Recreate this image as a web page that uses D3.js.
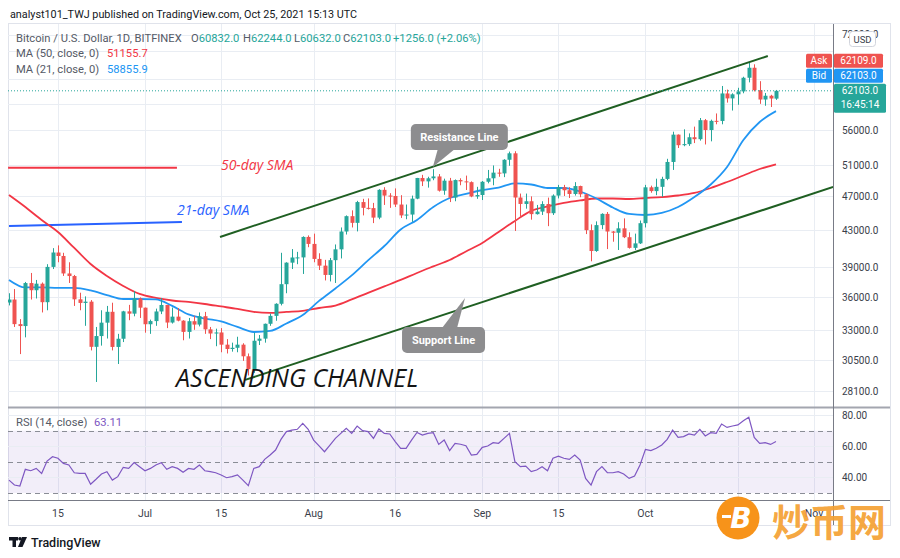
<!DOCTYPE html>
<html><head><meta charset="utf-8">
<script src="https://cdn.jsdelivr.net/npm/d3@7"></script>
<style>body{margin:0;background:#fff}svg{display:block;font-family:Roboto,"Noto Sans",sans-serif}</style>
</head><body><svg id="c" width="900" height="558"></svg>
<script>
// ---------- DATA ----------
const startDate = "2021-06-06";
const endDate = "2021-10-25";
const open = [35520,35800,33550,33380,37390,36690,37330,35550,39020,40530,40160,38350,38090,35820,35480,35600,31600,32510,33680,34660,31590,32280,34700,34490,35900,35040,33540,33820,34690,35290,33690,34220,33860,32870,33810,33510,34260,33090,32730,32820,31780,31420,31520,31780,30820,29790,32110,32290,33580,34290,35400,37280,39460,40000,40010,42230,41460,39850,39150,38200,39720,40870,42840,44610,43830,46300,45600,45570,44440,47820,47100,47050,46000,44700,44800,46720,49340,48900,49300,49540,47710,48990,46850,49070,48900,48800,46990,47170,48850,49300,50040,49940,51770,52660,46860,46070,46400,44850,45150,46060,44960,47100,48150,47770,47300,48300,47260,42990,40690,43570,44880,42840,42700,43200,42200,41030,41520,43790,48140,47660,48200,49220,51470,55320,53800,53950,54940,54660,57470,56000,57370,57350,61670,60870,61530,62000,64280,66000,62210,60690,61300,60832];
const high = [36400,36800,34000,37500,38400,37700,37450,39300,41000,41300,40500,39500,38200,36450,36100,35750,33300,34800,35200,35500,32700,34750,35300,36600,36000,35050,33950,34950,35950,35300,35050,35000,33900,34100,34300,34600,34650,33300,33150,33200,32250,31950,32450,31900,31050,32800,32600,33600,34500,35450,40500,39500,40900,40600,42300,42400,42600,40450,39750,39950,41400,43300,44700,45300,46450,46700,46750,46200,47900,48150,47400,48000,47150,46000,47100,49350,49750,49500,50500,49850,49250,49350,49150,49300,49650,48900,48200,48950,50400,51000,50550,51850,52900,52950,47350,47350,47000,45950,46400,46850,47250,48450,48450,48150,48800,48350,47350,43650,44000,44950,45100,42900,43900,44350,42750,42600,44100,48450,48350,49250,49500,51900,55750,55350,56100,55500,56500,57800,57650,57550,58500,62900,62300,61700,62600,64450,66900,66600,63700,61750,61450,62244];
const low = [35250,33300,31000,32400,35800,35900,34600,34800,38800,39500,38100,37400,35200,34800,33400,31300,28800,31700,32300,31300,30200,32000,33900,34250,34100,32800,32700,33400,34450,33200,33600,33800,32150,32300,33050,33350,32700,32250,31650,31150,31050,31200,31150,30450,29300,29500,31750,31950,33400,33850,35250,36400,38800,39300,38300,41100,39500,38700,37650,37550,37400,39900,42500,43300,42850,44700,45400,43800,44250,45950,45600,45700,44400,44250,43950,46650,48300,48100,49050,47600,47200,46300,46400,48400,47800,46900,46700,46550,48650,48400,49500,49450,50950,42900,44450,45500,44200,44800,44750,43450,44750,46750,47050,46800,47100,46900,42550,39600,40600,43100,40900,41700,40800,42100,40950,40800,41450,43300,47450,47150,46950,49050,50400,53400,53650,53700,54100,54450,53900,54350,56850,56850,60200,58950,59850,61700,63500,62000,60000,59700,59500,60632];
const close = [35800,33550,33380,37390,36690,37330,35550,39020,40530,40160,38350,38090,35820,35480,35600,31600,32510,33680,34660,31590,32280,34700,34490,35900,35040,33540,33820,34690,35290,33690,34220,33860,32870,33810,33510,34260,33090,32730,32820,31780,31420,31520,31780,30820,29790,32110,32290,33580,34290,35400,37280,39460,40000,40010,42230,41460,39850,39150,38200,39720,40870,42840,44610,43830,46300,45600,45570,44440,47820,47100,47050,46000,44700,44800,46720,49340,48900,49300,49540,47710,48990,46850,49070,48900,48800,46990,47170,48850,49300,50040,49940,51770,52660,46860,46070,46400,44850,45150,46060,44960,47100,48150,47770,47300,48300,47260,42990,40690,43570,44880,42840,42700,43200,42200,41030,41520,43790,48140,47660,48200,49220,51470,55320,53800,53950,54940,54660,57470,56000,57370,57350,61670,60870,61530,62000,64280,66000,62210,60690,61300,60850,62103];
const rsi = [38.3,35.1,34.5,45.2,44.3,45.8,42.6,50.5,53.3,52.3,49.0,48.0,43.0,42.6,42.6,35.6,38.8,42.2,43.7,38.3,40.5,46.5,45.8,49.5,46.9,44.3,45.8,48.0,49.5,45.2,46.9,45.8,43.3,45.8,45.2,48.0,44.3,43.7,43.0,41.6,39.8,40.5,41.6,38.3,34.7,45.8,46.9,51.6,54.4,57.6,64.4,69.4,70.4,70.9,74.7,70.9,64.0,60.2,56.5,60.8,65.1,68.3,71.5,68.3,73.0,70.0,69.4,65.1,71.1,68.3,67.9,63.0,58.7,58.7,64.0,68.9,67.2,68.3,68.7,61.2,64.0,57.2,61.9,61.3,60.4,54.4,54.8,59.3,60.2,62.3,61.9,65.1,68.3,50.1,46.9,47.3,43.7,44.8,46.9,44.3,52.3,53.7,52.3,51.6,54.4,51.2,39.4,35.1,43.7,46.9,43.0,43.0,43.7,42.2,39.4,40.9,48.0,58.0,57.2,58.7,60.8,64.4,70.4,65.7,66.2,67.9,67.2,70.9,66.6,68.7,68.3,74.3,72.1,73.0,73.7,76.4,78.6,65.7,61.9,62.3,61.2,63.11];
const maDates = ["2021-06-06","2021-06-09","2021-06-12","2021-06-15","2021-06-18","2021-06-21","2021-06-24","2021-06-27","2021-06-30","2021-07-03","2021-07-06","2021-07-09","2021-07-12","2021-07-15","2021-07-18","2021-07-21","2021-07-24","2021-07-27","2021-07-30","2021-08-02","2021-08-05","2021-08-08","2021-08-11","2021-08-14","2021-08-17","2021-08-20","2021-08-23","2021-08-26","2021-08-29","2021-09-01","2021-09-04","2021-09-07","2021-09-10","2021-09-13","2021-09-16","2021-09-19","2021-09-22","2021-09-25","2021-09-28","2021-10-01","2021-10-04","2021-10-07","2021-10-10","2021-10-13","2021-10-16","2021-10-19","2021-10-22","2021-10-25"];
const ma50 = [47170,45700,44160,42790,41020,39320,38100,37110,36330,35950,35710,35570,35380,35150,34920,34650,34560,34650,34740,35010,35240,35810,36430,37060,37700,38400,39070,39740,40640,41560,42790,44050,45230,45770,46190,46500,46740,46740,46680,46800,46920,47110,47430,48050,48820,49660,50520,51156];
const ma21 = [37700,36960,36960,36910,36910,36670,36230,35850,35850,35810,35200,34420,34050,33790,33300,32860,32950,33610,34370,35670,36860,38150,39690,41230,43070,44160,45700,46800,47300,47800,48110,48630,48500,48050,48050,47610,46740,45640,44870,44750,44990,45700,46920,48500,50790,54540,57190,58856];
const priceGrid = [72000,69000,64000,60000,56000,51000,47000,43000,39000,36000,33000,30500,28100];
const priceLabels = [72000,56000,51000,47000,43000,39000,36000,33000,30500,28100];
const timeTicks = ["2021-06-15","2021-07-01","2021-07-15","2021-08-01","2021-08-16","2021-09-01","2021-09-15","2021-10-01","2021-10-18","2021-11-01"];
const timeLabels = ["15","Jul","15","Aug","16","Sep","15","Oct","","Nov"];
const rsiGrid = [80,60,40];
const rsiLevels = [70,50,30];
const channelUpper = [["2021-07-14T19:00",42230],["2021-10-23T12:00",68070]];
const channelLower = [["2021-07-19T10:00",28960],["2021-11-04T12:00",48180]];
const sma50Marker = [["2021-06-05T20:00",50700],["2021-07-06T21:00",50700]];
const sma21Marker = [["2021-06-06T00:00",43470],["2021-07-07T19:00",43930]];
const textNotes = [
  {text:"50-day SMA", at:["2021-07-14T23:00",50390], color:"#f23645", size:14},
  {text:"21-day SMA", at:["2021-07-06T21:00",44750], color:"#2962ff", size:14},
  {text:"ASCENDING CHANNEL", at:["2021-07-06T17:00",28430], color:"#141414", size:25}
];
const callouts = [
  {text:"Resistance Line", tip:["2021-08-22T22:00",50790], dir:"up"},
  {text:"Support Line", tip:["2021-08-28T20:00",35950], dir:"down"}
];
const lastPrice = 62103, askPrice = 62109, bidPrice = 62103;

// ---------- SETUP ----------
const parse = s => new Date(s.length > 10 ? s + ":00Z" : s + "T00:00:00Z");
const dates = d3.utcDay.range(parse(startDate), d3.utcDay.offset(parse(endDate), 1));
const svg = d3.select("#c");
const UP = "#26a69a", DN = "#ef5350", GRID = "#e9edf3", AXC = "#3a3e4a";
const L = 8, R = 833, PT = 24, PB = 407, RT = 408, RB = 500;

const x = d3.scaleUtc().domain([parse(startDate), parse(endDate)]).range([9, 776]);
const y = d3.scaleLog().domain([28100, 56000]).range([391.3, 130]);
const r = d3.scaleLinear().domain([30, 70]).range([493, 430.7]);

svg.append("rect").attr("width", 900).attr("height", 558).attr("fill", "#fff");
const defs = svg.append("defs");
defs.append("clipPath").attr("id", "cp").append("rect").attr("x", L).attr("y", PT).attr("width", R - L).attr("height", PB - PT);
defs.append("clipPath").attr("id", "cr").append("rect").attr("x", L).attr("y", RT).attr("width", R - L).attr("height", RB - RT);

// frame
svg.append("rect").attr("x", 8.5).attr("y", 23.5).attr("width", 882).attr("height", 502).attr("fill", "none").attr("stroke", "#e0e3eb");

// grid
const tickDates = timeTicks.map(parse);
svg.append("g").selectAll("line").data(tickDates).join("line")
  .attr("x1", d => Math.round(x(d)) + 0.5).attr("x2", d => Math.round(x(d)) + 0.5)
  .attr("y1", PT).attr("y2", RB).attr("stroke", GRID);
svg.append("g").selectAll("line").data(priceGrid).join("line")
  .attr("x1", L).attr("x2", R).attr("y1", d => Math.round(y(d)) + 0.5).attr("y2", d => Math.round(y(d)) + 0.5)
  .attr("stroke", GRID);

// RSI pane background
svg.append("rect").attr("x", L).attr("width", R - L).attr("y", r(70)).attr("height", r(30) - r(70))
  .attr("fill", "rgba(126,87,194,0.10)");
svg.append("g").selectAll("line").data(rsiGrid).join("line")
  .attr("x1", L).attr("x2", R).attr("y1", d => Math.round(r(d)) + 0.5).attr("y2", d => Math.round(r(d)) + 0.5)
  .attr("stroke", GRID);
svg.append("g").selectAll("line").data(rsiLevels).join("line")
  .attr("x1", L).attr("x2", R).attr("y1", d => Math.round(r(d)) + 0.5).attr("y2", d => Math.round(r(d)) + 0.5)
  .attr("stroke", "#8a8d96").attr("stroke-dasharray", "5,4");

// ---------- PRICE PANE ----------
const pg = svg.append("g").attr("clip-path", "url(#cp)");
const pt = p => [x(parse(p[0])), y(p[1])];

// SMA marker lines
pg.append("path").attr("d", d3.line()(sma50Marker.map(pt))).attr("stroke", "#f23645").attr("stroke-width", 2).attr("fill", "none");
pg.append("path").attr("d", d3.line()(sma21Marker.map(pt))).attr("stroke", "#2962ff").attr("stroke-width", 2).attr("fill", "none");

// MAs
const maLine = d3.line().curve(d3.curveMonotoneX);
pg.append("path").attr("d", maLine(maDates.map((d, i) => [x(parse(d)), y(ma50[i])])))
  .attr("fill", "none").attr("stroke", "#f23645").attr("stroke-width", 1.8);
pg.append("path").attr("d", maLine(maDates.map((d, i) => [x(parse(d)), y(ma21[i])])))
  .attr("fill", "none").attr("stroke", "#2196f3").attr("stroke-width", 1.8);

// candles
const candles = dates.map((d, i) => ({ d, o: open[i], h: high[i], l: low[i], c: close[i] }));
const cx = d => Math.round(x(d.d)) + 0.5;
pg.append("g").selectAll("line").data(candles).join("line")
  .attr("x1", cx).attr("x2", cx).attr("y1", d => y(d.h)).attr("y2", d => y(d.l))
  .attr("stroke", d => d.c >= d.o ? UP : DN).attr("stroke-width", 1);
pg.append("g").selectAll("rect").data(candles).join("rect")
  .attr("x", d => cx(d) - 2).attr("width", 4)
  .attr("y", d => y(Math.max(d.o, d.c)))
  .attr("height", d => Math.max(1, Math.abs(y(d.o) - y(d.c))))
  .attr("fill", d => d.c >= d.o ? UP : DN);

// channel
[channelUpper, channelLower].forEach(c => {
  pg.append("path").attr("d", d3.line()(c.map(pt))).attr("stroke", "#1f5f22").attr("stroke-width", 2).attr("fill", "none");
});

// last price dotted line
pg.append("line").attr("x1", L).attr("x2", R).attr("y1", y(lastPrice)).attr("y2", y(lastPrice))
  .attr("stroke", UP).attr("stroke-dasharray", "1,2");

// text notes
textNotes.forEach(n => {
  const [tx, ty] = pt(n.at);
  pg.append("text").attr("x", tx).attr("y", ty).text(n.text)
    .attr("fill", n.color).attr("font-size", n.size).attr("font-style", "italic")
    .attr("font-family", "'Open Sans', sans-serif");
});

// callouts
callouts.forEach(c => {
  const [tx, ty] = pt(c.tip);
  const g = pg.append("g");
  let bx, by, bw, bh = 26, poly;
  if (c.dir === "up") {
    bw = 97; bx = tx - 22; by = ty - 43;
    poly = [[tx + 5, ty - 18], [tx + 22, ty - 18], [tx, ty]];
  } else {
    bw = 83; bx = tx - 63; by = ty + 29;
    poly = [[tx - 23, ty + 30], [tx - 8, ty + 30], [tx, ty]];
  }
  g.append("rect").attr("x", bx).attr("y", by).attr("width", bw).attr("height", bh).attr("rx", 5)
    .attr("fill", "#8d8d8f");
  g.append("path").attr("d", d3.line()(poly) + "Z").attr("fill", "#8d8d8f");
  g.append("text").attr("x", bx + bw / 2).attr("y", by + bh / 2 + 4).attr("text-anchor", "middle")
    .attr("fill", "#fff").attr("font-size", 11).attr("font-weight", 700).text(c.text);
});

// ---------- RSI ----------
const rg = svg.append("g").attr("clip-path", "url(#cr)");
rg.append("path").attr("d", d3.line()(dates.map((d, i) => [x(d), r(rsi[i])])))
  .attr("fill", "none").attr("stroke", "#7e57c2").attr("stroke-width", 1.2);

// ---------- PANE BORDERS ----------
svg.append("line").attr("x1", L).attr("x2", 890).attr("y1", 407.5).attr("y2", 407.5).attr("stroke", "#a3a6af").attr("stroke-width", 2);
svg.append("line").attr("x1", L).attr("x2", 890).attr("y1", 500.5).attr("y2", 500.5).attr("stroke", "#787b86");
svg.append("line").attr("x1", 833.5).attr("x2", 833.5).attr("y1", PT).attr("y2", 525).attr("stroke", "#787b86");

// ---------- AXES ----------
const axG = svg.append("g").attr("font-size", 10).attr("fill", AXC);
axG.selectAll("text.p").data(priceLabels).join("text").attr("class", "p")
  .attr("x", 842).attr("y", d => y(d) + 3.5).text(d => d3.format(".1f")(d));
axG.selectAll("text.r").data(rsiGrid).join("text").attr("class", "r")
  .attr("x", 842).attr("y", d => r(d) + 3.5).text(d => d3.format(".2f")(d));
axG.selectAll("text.t").data(tickDates.filter((d, i) => timeLabels[i])).join("text").attr("class", "t")
  .attr("x", d => x(d)).attr("y", 517).attr("text-anchor", "middle").attr("font-size", 10.5)
  .text(d => timeLabels[tickDates.indexOf(d)]);

// USD box
svg.append("rect").attr("x", 849.5).attr("y", 31.5).attr("width", 26).attr("height", 15).attr("rx", 3)
  .attr("fill", "#fff").attr("stroke", "#d1d4dc");
svg.append("text").attr("x", 862.5).attr("y", 42.5).attr("text-anchor", "middle").attr("font-size", 9.5).attr("fill", AXC).text("USD");

// price boxes
const ly = y(lastPrice);
const box = (bx, by, bw, bh, fill, lines) => {
  svg.append("rect").attr("x", bx).attr("y", by).attr("width", bw).attr("height", bh).attr("rx", 1.5).attr("fill", fill);
  lines.forEach((t, i) => svg.append("text").attr("x", bx + bw / 2).attr("y", by + 10.5 + i * 14)
    .attr("text-anchor", "middle").attr("font-size", 10).attr("fill", "#fff").text(t));
};
box(806, ly - 37, 26, 14, DN, ["Ask"]);
box(834, ly - 37, 49, 14, DN, [d3.format(".1f")(askPrice)]);
box(806, ly - 22, 26, 14, "#2196f3", ["Bid"]);
box(834, ly - 22, 49, 14, "#2196f3", [d3.format(".1f")(bidPrice)]);
box(834, ly - 7, 52, 29, UP, [d3.format(".1f")(lastPrice), "16:45:14"]);

// ---------- LEGENDS ----------
svg.append("text").attr("x", 10).attr("y", 18).attr("font-size", 10.8).attr("fill", "#131722")
  .text("analyst101_TWJ published on TradingView.com, Oct 25, 2021 15:13 UTC");
const lg = svg.append("g").attr("font-size", 11.2);
const GRAY = "#555a66";
lg.append("text").attr("x", 16).attr("y", 42).attr("fill", GRAY).text("Bitcoin / U.S. Dollar, 1D, BITFINEX");
[["O", "60832.0", 191], ["H", "62244.0", 243], ["L", "60632.0", 294], ["C", "62103.0", 343]].forEach(([k, v, px]) => {
  const t = lg.append("text").attr("x", px).attr("y", 42);
  t.append("tspan").attr("fill", GRAY).text(k);
  t.append("tspan").attr("fill", UP).text(v);
});
lg.append("text").attr("x", 393).attr("y", 42).attr("fill", UP).text("+1256.0 (+2.06%)");
lg.append("text").attr("x", 16).attr("y", 57).attr("fill", GRAY).text("MA (50, close, 0)");
lg.append("text").attr("x", 107).attr("y", 57).attr("fill", "#f23645").text("51155.7");
lg.append("text").attr("x", 16).attr("y", 73).attr("fill", GRAY).text("MA (21, close, 0)");
lg.append("text").attr("x", 107).attr("y", 73).attr("fill", "#2196f3").text("58855.9");
lg.append("text").attr("x", 16).attr("y", 426).attr("fill", GRAY).text("RSI (14, close)");
lg.append("text").attr("x", 94).attr("y", 426).attr("fill", "#7e57c2").text(d3.format(".2f")(rsi[rsi.length - 1]));

// ---------- FOOTER LOGO ----------
const lgo = svg.append("g").attr("fill", "#131722");
lgo.append("rect").attr("x", 9).attr("y", 537).attr("width", 9).attr("height", 3.5);
lgo.append("rect").attr("x", 12.5).attr("y", 537).attr("width", 3.5).attr("height", 10);
lgo.append("circle").attr("cx", 20).attr("cy", 538.7).attr("r", 1.8);
lgo.append("path").attr("d", "M22,537 L27,537 L22.5,547 L18,547 Z");
svg.append("text").attr("x", 31).attr("y", 547).attr("font-size", 12.5).attr("font-weight", 500).attr("fill", "#131722").text("TradingView");

// ---------- WATERMARK ----------
const wm = svg.append("g");
wm.append("circle").attr("cx", 738).attr("cy", 518).attr("r", 21.5).attr("fill", "#f7931a");
wm.append("text").attr("x", 741).attr("y", 528).attr("text-anchor", "middle").attr("font-size", 28)
  .attr("font-weight", 900).attr("font-style", "italic").attr("fill", "#fff").attr("font-family", "'DejaVu Sans', sans-serif").text("B");
wm.append("rect").attr("x", 722).attr("y", 515).attr("width", 9).attr("height", 3).attr("fill", "#fff");
wm.append("text").attr("x", 772).attr("y", 536).attr("font-size", 38).attr("font-weight", 700)
  .attr("font-family", "'Noto Sans CJK SC', sans-serif").attr("fill", "#f5a030").attr("fill-opacity", 0.92).text("炒币网");
</script></body></html>
